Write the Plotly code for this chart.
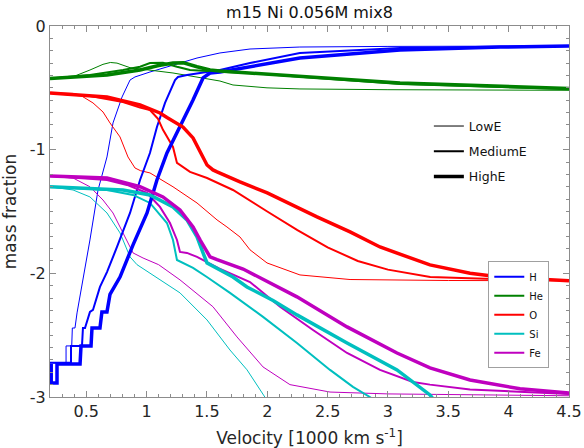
import plotly.graph_objects as go

# ---------------- data (velocity in 1000 km/s, log10 mass fraction) ----------------
H_low_v = [0.2, 0.333, 0.333, 0.38, 0.385, 0.407, 0.424, 0.449, 0.473, 0.531, 0.598, 0.672, 0.722, 0.797, 0.863, 0.904, 1.028, 1.219, 1.418, 1.608, 1.857, 2.27, 3.0, 4.5]
H_low_m = [-2.724, -2.724, -2.587, -2.587, -2.442, -2.442, -2.32, -2.19, -2.05, -1.73, -1.326, -1.059, -0.784, -0.574, -0.437, -0.412, -0.372, -0.315, -0.259, -0.218, -0.186, -0.17, -0.165, -0.162]

H_med_v = [0.2, 0.374, 0.374, 0.465, 0.473, 0.49, 0.531, 0.556, 0.614, 0.672, 0.755, 0.863, 0.946, 1.028, 1.086, 1.153, 1.236, 1.26, 1.335, 1.5, 1.608, 1.857, 2.27, 3.1, 4.5]
H_med_m = [-2.724, -2.724, -2.587, -2.587, -2.442, -2.442, -2.312, -2.296, -2.11, -1.99, -1.787, -1.512, -1.245, -1.027, -0.817, -0.622, -0.437, -0.412, -0.396, -0.372, -0.356, -0.3, -0.218, -0.178, -0.162]

H_high_v = [0.21, 0.21, 0.258, 0.258, 0.449, 0.457, 0.54, 0.548, 0.614, 0.63, 0.672, 0.697, 0.78, 0.888, 1.004, 1.086, 1.169, 1.277, 1.385, 1.468, 1.526, 1.608, 1.857, 2.27, 3.1, 3.93, 4.5]
H_high_m = [-2.733, -2.886, -2.886, -2.733, -2.733, -2.587, -2.587, -2.442, -2.442, -2.312, -2.312, -2.17, -2.03, -1.77, -1.512, -1.245, -1.027, -0.817, -0.598, -0.42, -0.38, -0.372, -0.331, -0.259, -0.194, -0.17, -0.162]

He_low_v = [0.2, 0.391, 0.531, 0.639, 0.7, 0.755, 0.863, 1.219, 1.608, 1.716, 1.998, 2.271, 3.0, 4.5]
He_low_m = [-0.425, -0.41, -0.356, -0.31, -0.295, -0.30, -0.337, -0.38, -0.445, -0.477, -0.50, -0.509, -0.515, -0.52]

He_med_v = [0.2, 0.531, 0.805, 0.946, 1.028, 1.136, 1.252, 1.36, 1.608, 1.857, 2.271, 3.1, 4.5]
He_med_m = [-0.425, -0.396, -0.356, -0.329, -0.30, -0.297, -0.329, -0.356, -0.37, -0.38, -0.41, -0.47, -0.51]

He_high_v = [0.2, 0.672, 0.946, 1.1, 1.219, 1.306, 1.418, 1.526, 1.608, 1.857, 2.271, 3.1, 4.5]
He_high_m = [-0.425, -0.396, -0.356, -0.32, -0.30, -0.297, -0.329, -0.356, -0.364, -0.38, -0.41, -0.46, -0.505]

O_low_v = [0.2, 0.39, 0.449, 0.473, 0.556, 0.639, 0.697, 0.78, 0.846, 0.904, 0.95, 1.028, 1.219, 1.418, 1.584, 1.666, 1.774, 1.857, 1.998, 2.271, 2.686, 3.5, 4.5]
O_low_m = [-0.542, -0.545, -0.558, -0.574, -0.622, -0.695, -0.784, -0.897, -1.059, -1.148, -1.17, -1.188, -1.30, -1.431, -1.568, -1.625, -1.706, -1.81, -1.916, -2.013, -2.05, -2.058, -2.06]

O_med_v = [0.2, 0.531, 0.805, 0.946, 1.028, 1.095, 1.136, 1.219, 1.252, 1.302, 1.36, 1.501, 1.716, 2.0, 2.25, 2.5, 2.75, 3.0, 3.35, 4.0, 4.5]
O_med_m = [-0.542, -0.566, -0.614, -0.66, -0.679, -0.75, -0.84, -0.978, -1.107, -1.14, -1.18, -1.229, -1.326, -1.5, -1.65, -1.79, -1.9, -1.97, -2.03, -2.05, -2.055]

O_high_v = [0.2, 0.672, 0.946, 1.111, 1.169, 1.302, 1.385, 1.443, 1.501, 1.55, 1.584, 1.774, 2.0, 2.412, 2.686, 2.934, 3.348, 3.68, 3.928, 4.5]
O_high_m = [-0.542, -0.574, -0.639, -0.703, -0.74, -0.817, -0.905, -1.019, -1.124, -1.164, -1.18, -1.261, -1.35, -1.544, -1.665, -1.787, -1.932, -2.0, -2.03, -2.06]

Si_low_v = [0.2, 0.391, 0.531, 0.672, 0.78, 0.863, 0.921, 1.0, 1.1, 1.277, 1.501, 1.691, 1.832, 1.965, 2.0]
Si_low_m = [-1.30, -1.326, -1.382, -1.512, -1.673, -1.867, -1.93, -1.98, -2.05, -2.158, -2.377, -2.62, -2.78, -2.983, -3.03]

Si_med_v = [0.2, 0.672, 0.888, 1.028, 1.169, 1.219, 1.252, 1.302, 1.385, 1.5, 1.691, 1.965, 2.246, 2.52, 2.71, 2.85, 2.9]
Si_med_m = [-1.30, -1.326, -1.366, -1.431, -1.593, -1.73, -1.892, -1.916, -1.956, -2.03, -2.158, -2.352, -2.563, -2.781, -2.918, -3.0, -3.04]

Si_high_v = [0.2, 0.805, 1.028, 1.219, 1.335, 1.418, 1.468, 1.501, 1.716, 1.832, 2.048, 2.246, 2.661, 3.075, 3.348, 3.37]
Si_high_m = [-1.30, -1.326, -1.366, -1.463, -1.568, -1.706, -1.835, -1.916, -2.03, -2.11, -2.22, -2.336, -2.563, -2.781, -2.983, -3.01]

Fe_low_v = [0.2, 0.391, 0.531, 0.639, 0.722, 0.805, 0.888, 0.971, 1.1, 1.277, 1.55, 1.749, 1.965, 2.188, 2.52, 3.0, 4.5]
Fe_low_m = [-1.213, -1.229, -1.30, -1.407, -1.512, -1.673, -1.835, -1.876, -1.93, -2.053, -2.27, -2.514, -2.757, -2.9, -2.96, -2.975, -2.99]

Fe_med_v = [0.2, 0.672, 0.838, 1.004, 1.111, 1.194, 1.252, 1.277, 1.335, 1.418, 1.6, 1.857, 2.106, 2.379, 2.661, 2.934, 3.207, 3.348, 3.68, 4.094, 4.5]
Fe_med_m = [-1.213, -1.245, -1.285, -1.35, -1.463, -1.593, -1.73, -1.827, -1.835, -1.867, -1.96, -2.07, -2.27, -2.458, -2.644, -2.781, -2.878, -2.9, -2.94, -2.96, -2.975]

Fe_high_v = [0.2, 0.672, 0.946, 1.136, 1.277, 1.385, 1.443, 1.501, 1.526, 1.584, 1.8, 2.246, 2.661, 3.075, 3.348, 3.68, 4.094, 4.5]
Fe_high_m = [-1.213, -1.229, -1.30, -1.382, -1.487, -1.625, -1.73, -1.835, -1.867, -1.89, -1.965, -2.19, -2.433, -2.644, -2.765, -2.862, -2.934, -2.967]

elements = ["H", "He", "O", "Si", "Fe"]
energies = ["LowE", "MediumE", "HighE"]
x_tick_vals = [0.5, 1, 1.5, 2, 2.5, 3, 3.5, 4, 4.5]
y_tick_vals = [0, -1, -2, -3]
y_tick_text = ["0", "-1", "-2", "-3"]

# ---------------- styling ----------------
colors = {"H": "#0000ff", "He": "#008000", "O": "#ff0000", "Si": "#00bfbf", "Fe": "#bf00bf"}
widths = {"LowE": 1, "MediumE": 2, "HighE": 3.5}

series = {
    ("H", "LowE"): (H_low_v, H_low_m), ("H", "MediumE"): (H_med_v, H_med_m), ("H", "HighE"): (H_high_v, H_high_m),
    ("He", "LowE"): (He_low_v, He_low_m), ("He", "MediumE"): (He_med_v, He_med_m), ("He", "HighE"): (He_high_v, He_high_m),
    ("O", "LowE"): (O_low_v, O_low_m), ("O", "MediumE"): (O_med_v, O_med_m), ("O", "HighE"): (O_high_v, O_high_m),
    ("Si", "LowE"): (Si_low_v, Si_low_m), ("Si", "MediumE"): (Si_med_v, Si_med_m), ("Si", "HighE"): (Si_high_v, Si_high_m),
    ("Fe", "LowE"): (Fe_low_v, Fe_low_m), ("Fe", "MediumE"): (Fe_med_v, Fe_med_m), ("Fe", "HighE"): (Fe_high_v, Fe_high_m),
}

fig = go.Figure()
for en in energies:
    for el in elements:
        v, m = series[(el, en)]
        fig.add_trace(go.Scatter(
            x=v, y=m, mode="lines", name=el,
            line=dict(color=colors[el], width=widths[en]),
            showlegend=(en == "MediumE"), legend="legend",
            hoverinfo="skip",
        ))

# energy (line width) key
for en in energies:
    fig.add_trace(go.Scatter(
        x=[None], y=[None], mode="lines", name=en,
        line=dict(color="black", width=widths[en]),
        legend="legend2", legendgroup=en, showlegend=True, hoverinfo="skip",
    ))

axis_col = "#8c8c8c"
text_col = "#262626"

fig.update_layout(
    width=584, height=448,
    margin=dict(l=50, r=15, t=26, b=51, autoexpand=False),
    paper_bgcolor="white", plot_bgcolor="white",
    hovermode=False,
    font=dict(family="DejaVu Sans", color=text_col),
    title=dict(text="m15 Ni 0.056M mix8", x=0.5, xref="paper", xanchor="center",
               y=1 - 12 / 448, yref="container", yanchor="middle",
               font=dict(size=16, color="#111111")),
    xaxis=dict(
        range=[0.2, 4.5], tickvals=x_tick_vals, ticks="inside", ticklen=6, tickcolor=axis_col,
        showline=True, linecolor=axis_col, linewidth=1, mirror="ticks", automargin=False,
        showgrid=False, zeroline=False, tickfont=dict(size=16, color=text_col),
        minor=dict(dtick=0.1, tick0=0, ticks="inside", ticklen=3, tickcolor=axis_col, showgrid=False),
        title=dict(text="Velocity [1000 km s<sup>-1</sup>]", font=dict(size=17, color=text_col)),
    ),
    yaxis=dict(
        range=[-3, 0], tickvals=y_tick_vals, ticktext=y_tick_text, ticks="inside", ticklen=6, tickcolor=axis_col,
        showline=True, linecolor=axis_col, linewidth=1, mirror="ticks", automargin=False,
        showgrid=False, zeroline=False, tickfont=dict(size=16, color=text_col),
        minor=dict(dtick=0.1, tick0=0, ticks="inside", ticklen=3, tickcolor=axis_col, showgrid=False),
        title=dict(text="mass fraction", font=dict(size=17, color=text_col)),
    ),
    legend=dict(
        x=0.962, xanchor="right", y=0.222, yanchor="middle",
        bgcolor="white", bordercolor="#a0a0a0", borderwidth=1,
        font=dict(size=10, color="#111111"), itemwidth=30,
    ),
    legend2=dict(
        x=0.73, xanchor="left", y=0.662, yanchor="middle",
        bgcolor="rgba(0,0,0,0)", borderwidth=0, traceorder="grouped", tracegroupgap=6,
        font=dict(size=12.5, color="#111111"), itemwidth=30,
    ),
)

fig.write_html("out.html", config={"displayModeBar": False},
               post_script="document.body.style.margin='0';")
